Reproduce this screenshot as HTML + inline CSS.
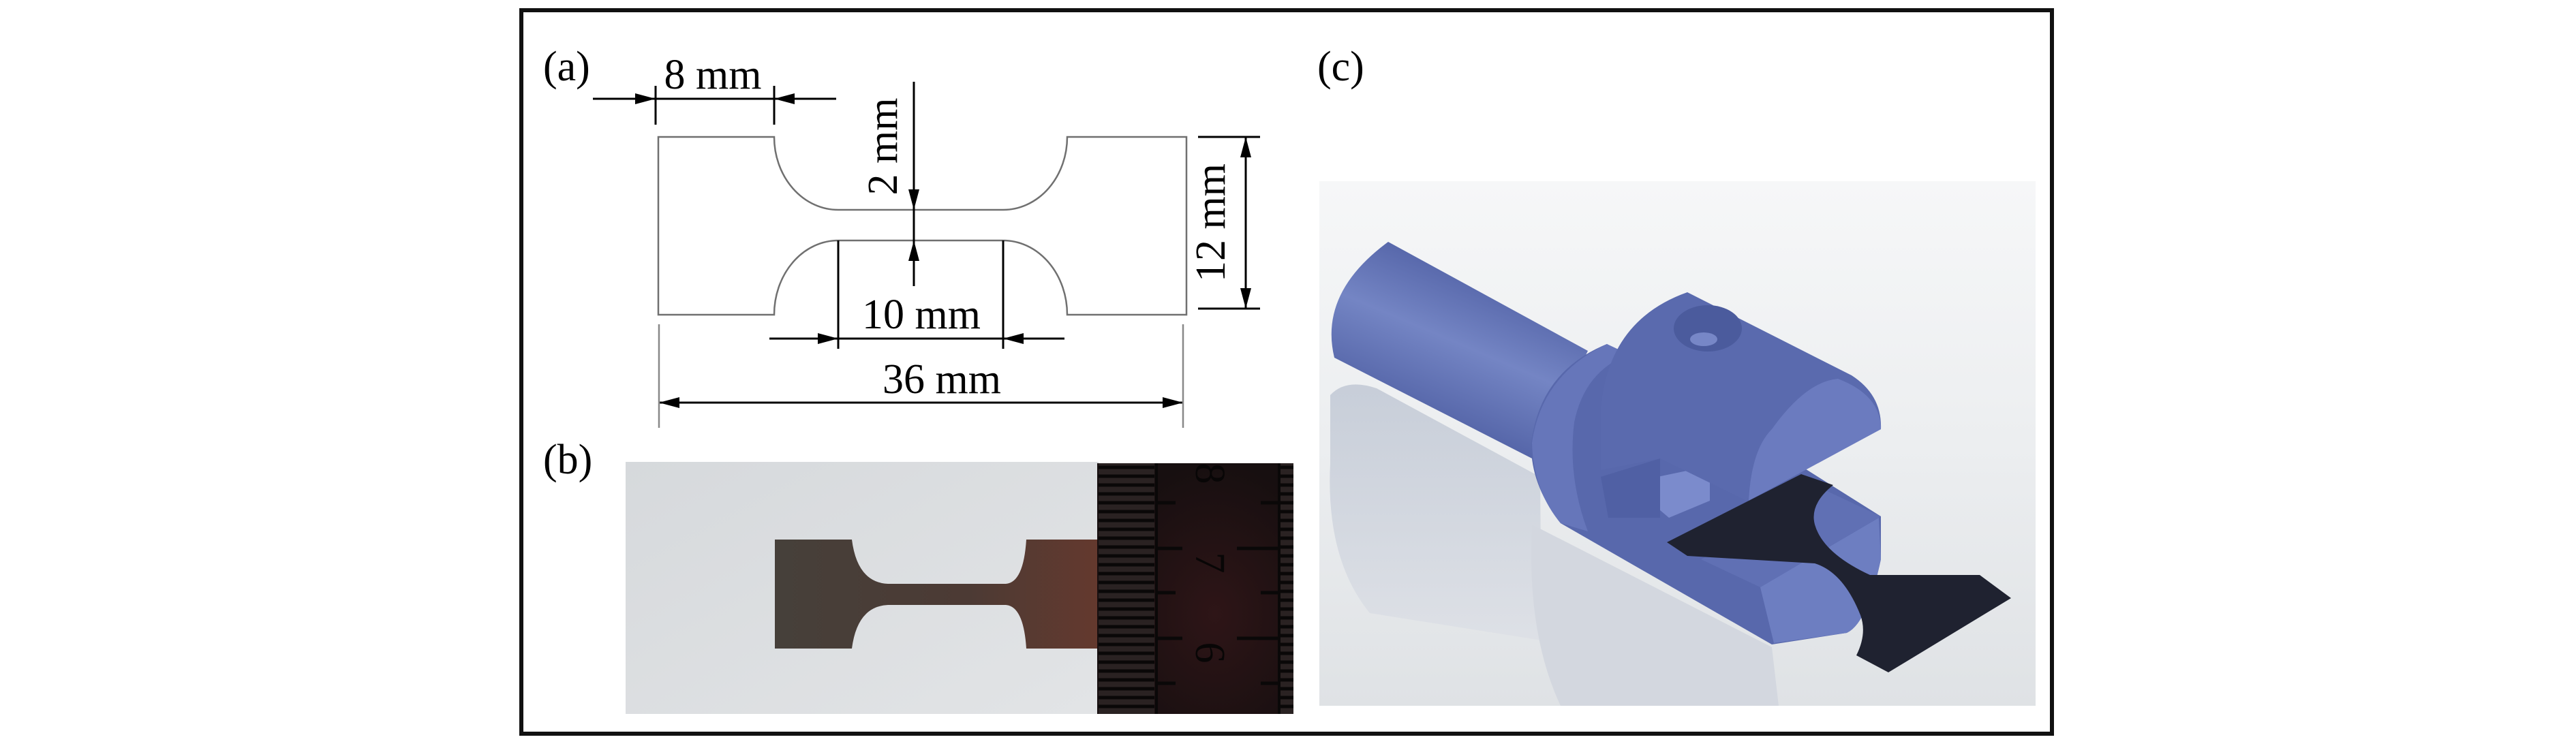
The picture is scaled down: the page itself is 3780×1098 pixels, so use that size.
<!DOCTYPE html>
<html><head><meta charset="utf-8">
<style>
html,body{margin:0;padding:0;background:#fff;}
svg{display:block;}
text{font-family:"Liberation Serif",serif;fill:#000;}
</style></head>
<body>
<svg width="3780" height="1098" viewBox="0 0 3780 1098" xmlns="http://www.w3.org/2000/svg">
<defs>
  <linearGradient id="bg3" x1="0" y1="0" x2="0" y2="1">
    <stop offset="0" stop-color="#f6f7f8"/>
    <stop offset="0.5" stop-color="#eceef0"/>
    <stop offset="1" stop-color="#dfe2e5"/>
  </linearGradient>
  <linearGradient id="photo" x1="0" y1="0" x2="1" y2="1">
    <stop offset="0" stop-color="#d6d9dc"/>
    <stop offset="1" stop-color="#e2e4e6"/>
  </linearGradient>
  <radialGradient id="ruler" cx="0.6" cy="0.6" r="0.6">
    <stop offset="0" stop-color="#2e1517"/>
    <stop offset="1" stop-color="#170f10"/>
  </radialGradient>
  <linearGradient id="samp" x1="0" y1="0" x2="1" y2="0">
    <stop offset="0" stop-color="#46403a"/>
    <stop offset="0.6" stop-color="#4c3a34"/>
    <stop offset="1" stop-color="#64392e"/>
  </linearGradient>
  <linearGradient id="shaft" x1="0.35" y1="0" x2="0" y2="0.7">
    <stop offset="0" stop-color="#5262a6"/>
    <stop offset="0.45" stop-color="#7485c4"/>
    <stop offset="1" stop-color="#4e5ea2"/>
  </linearGradient>
  <linearGradient id="refl" x1="0" y1="0" x2="0" y2="1">
    <stop offset="0" stop-color="#c3cad6"/>
    <stop offset="1" stop-color="#dde0e6"/>
  </linearGradient>
  <marker id="ah" viewBox="0 0 30 16" refX="30" refY="8" markerWidth="30" markerHeight="16" markerUnits="userSpaceOnUse" orient="auto">
    <path d="M0,0 L30,8 L0,16 Z" fill="#000"/>
  </marker>
</defs>

<!-- frame -->
<rect x="765" y="15" width="2246" height="1062" fill="none" stroke="#111" stroke-width="6"/>

<!-- (a) -->
<text x="797" y="118" font-size="62">(a)</text>
<path d="M966,201 H1136 A94,107 0 0 0 1230,308 H1472 A94,107 0 0 0 1566,201 H1741 V462 H1566 A94,109 0 0 0 1472,353 H1230 A94,109 0 0 0 1136,462 H966 Z" fill="none" stroke="#707070" stroke-width="2.5"/>

<g stroke="#000" stroke-width="3" fill="none">
  <line x1="870" y1="145" x2="962" y2="145" marker-end="url(#ah)"/>
  <line x1="1227" y1="145" x2="1136" y2="145" marker-end="url(#ah)"/>
  <line x1="962" y1="145" x2="1136" y2="145"/>
  <line x1="962" y1="126" x2="962" y2="183"/>
  <line x1="1136" y1="126" x2="1136" y2="183"/>
  <line x1="1341" y1="120" x2="1341" y2="308" marker-end="url(#ah)"/>
  <line x1="1341" y1="420" x2="1341" y2="353" marker-end="url(#ah)"/>
  <line x1="1341" y1="308" x2="1341" y2="353"/>
  <line x1="1230" y1="353" x2="1230" y2="512"/>
  <line x1="1472" y1="353" x2="1472" y2="512"/>
  <line x1="1129" y1="497" x2="1230" y2="497" marker-end="url(#ah)"/>
  <line x1="1562" y1="497" x2="1472" y2="497" marker-end="url(#ah)"/>
  <line x1="1230" y1="497" x2="1472" y2="497"/>
  <line x1="1352" y1="591" x2="967" y2="591" marker-end="url(#ah)"/>
  <line x1="1352" y1="591" x2="1736" y2="591" marker-end="url(#ah)"/>
  <line x1="1758" y1="201" x2="1849" y2="201"/>
  <line x1="1758" y1="453" x2="1849" y2="453"/>
  <line x1="1828" y1="327" x2="1828" y2="201" marker-end="url(#ah)"/>
  <line x1="1828" y1="327" x2="1828" y2="453" marker-end="url(#ah)"/>
</g>
<g stroke="#888" stroke-width="2.5">
  <line x1="967" y1="476" x2="967" y2="628"/>
  <line x1="1736" y1="476" x2="1736" y2="628"/>
</g>
<text x="1046" y="130" font-size="62" text-anchor="middle">8 mm</text>
<text x="1352" y="482" font-size="62" text-anchor="middle">10 mm</text>
<text x="1382" y="577" font-size="62" text-anchor="middle">36 mm</text>
<text transform="translate(1316,215) rotate(-90)" font-size="62" text-anchor="middle">2 mm</text>
<text transform="translate(1797,327) rotate(-90)" font-size="62" text-anchor="middle">12 mm</text>

<!-- (b) -->
<text x="797" y="695" font-size="62">(b)</text>
<rect x="918" y="678" width="694" height="370" fill="url(#photo)"/>
<path d="M1137,792 H1250 Q1258,855 1303,857 H1476 Q1502,855 1506,792 H1612 V952 H1506 Q1502,890 1476,888 H1303 Q1258,890 1250,952 H1137 Z" fill="url(#samp)"/>
<rect x="1610" y="680" width="288" height="368" fill="url(#ruler)"/>
<rect x="1612" y="680" width="82" height="368" fill="#2a2222"/>
<rect x="1878" y="680" width="20" height="368" fill="#2a2222"/>
<g stroke="#0a0808" stroke-width="4">
  <line x1="1697" y1="680" x2="1697" y2="1048"/>
  <line x1="1877" y1="680" x2="1877" y2="1048"/>
</g>
<g stroke="#0a0808" stroke-width="5">
  <path d="M1612,686H1694M1612,699H1694M1612,712H1694M1612,725H1694M1612,738H1694M1612,751H1694M1612,764H1694M1612,777H1694M1612,790H1694M1612,803H1694M1612,816H1694M1612,829H1694M1612,842H1694M1612,855H1694M1612,868H1694M1612,881H1694M1612,894H1694M1612,907H1694M1612,920H1694M1612,933H1694M1612,946H1694M1612,959H1694M1612,972H1694M1612,985H1694M1612,998H1694M1612,1011H1694M1612,1024H1694M1612,1037H1694"/>
  <path d="M1878,686H1898M1878,699H1898M1878,712H1898M1878,725H1898M1878,738H1898M1878,751H1898M1878,764H1898M1878,777H1898M1878,790H1898M1878,803H1898M1878,816H1898M1878,829H1898M1878,842H1898M1878,855H1898M1878,868H1898M1878,881H1898M1878,894H1898M1878,907H1898M1878,920H1898M1878,933H1898M1878,946H1898M1878,959H1898M1878,972H1898M1878,985H1898M1878,998H1898M1878,1011H1898M1878,1024H1898M1878,1037H1898"/>
  <path d="M1697,738H1725M1850,738H1877M1697,805H1735M1815,805H1877M1697,870H1725M1850,870H1877M1697,937H1735M1815,937H1877M1697,1003H1725M1850,1003H1877"/>
</g>
<text transform="translate(1755,695) rotate(90)" font-size="62" text-anchor="middle" style="fill:#080606">8</text>
<text transform="translate(1755,826) rotate(90)" font-size="62" text-anchor="middle" style="fill:#080606">7</text>
<text transform="translate(1755,958) rotate(90)" font-size="62" text-anchor="middle" style="fill:#080606">6</text>

<!-- (c) -->
<text x="1933" y="118" font-size="62">(c)</text>
<rect x="1936" y="266" width="1051" height="770" fill="url(#bg3)"/>
<!-- reflections -->
<path d="M1952,580 Q1975,555 2020,570 L2260,700 L2262,940 L2010,900 Q1945,820 1952,680 Z" fill="url(#refl)" opacity="0.9"/>
<path d="M2248,770 L2600,950 L2610,1036 L2290,1036 Q2240,930 2248,770 Z" fill="#d3d7df"/>
<!-- shaft -->
<path d="M2037,355 L2330,515 L2252,675 L1958,525 Q1935,430 2037,355 Z" fill="url(#shaft)"/>
<!-- lower collar body -->
<path d="M2358,505 L2760,758 L2760,821 Q2740,915 2710,929 L2600,946 L2290,768 Q2245,710 2247,650 Q2260,545 2358,505 Z" fill="#5868ac"/>
<path d="M2358,505 Q2262,550 2248,650 Q2250,720 2290,768 L2330,780 Q2300,700 2310,620 Q2325,545 2390,520 Z" fill="#6676ba"/>
<!-- lower end face -->
<path d="M2583,862 L2757,760 L2760,821 Q2740,915 2710,929 L2603,944 Z" fill="#6d7ec1"/>
<path d="M2496,821 L2677,719 L2760,758 L2583,862 Z" fill="#6070b4"/>
<!-- slot -->
<path d="M2389,709 L2509,684 L2509,735 L2449,760 Z" fill="#7b8bcc"/>
<path d="M2349,700 L2436,673 L2436,760 L2360,760 Z" fill="#5060a4"/>
<!-- upper block -->
<path d="M2349,600 Q2360,470 2476,429 L2717,551 Q2762,580 2760,630 L2563,735 L2436,673 L2349,690 Z" fill="#5a6aae"/>
<path d="M2566,735 Q2570,660 2600,630 Q2650,560 2697,556 Q2760,580 2760,630 Z" fill="#6b7bbf"/>
<ellipse cx="2506" cy="482" rx="50" ry="34" fill="#4b5b9d"/>
<ellipse cx="2500" cy="498" rx="20" ry="10" fill="#7787c7"/>
<!-- black specimen -->
<path d="M2446,796 L2643,696 L2690,712 Q2655,740 2663,770 Q2675,812 2744,844 L2905,844 L2951,878 L2771,987 L2724,962 Q2740,930 2730,903 Q2705,840 2663,827 L2476,816 Z" fill="#1f2230"/>

</svg>
</body></html>
